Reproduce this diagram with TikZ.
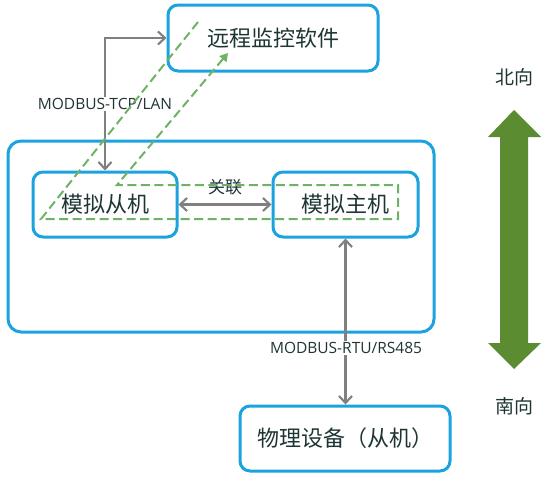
\documentclass[tikz,border=0pt]{standalone}
\usepackage{fontspec}
\setmainfont{Open Sans}
\newfontfamily\cjk{Noto Sans CJK SC}
\usetikzlibrary{arrows.meta}
\definecolor{boxblue}{HTML}{1BA3E0}
\definecolor{txt}{HTML}{1F3535}
\definecolor{gline}{HTML}{808080}
\definecolor{dgreen}{HTML}{6EB266}
\definecolor{bigarrow}{HTML}{5B8C32}
\begin{document}
\begin{tikzpicture}[x=1pt,y={(0pt,-1pt)},
  box/.style={draw=boxblue, line width=3pt, rounded corners=10pt, fill=white, text=txt, font=\cjk\fontsize{22}{26}\selectfont, inner sep=0pt},
  garrow/.style={draw=gline, line width=2.1pt, {Straight Barb[length=7pt,width=13pt]}-{Straight Barb[length=7pt,width=13pt]}},
  glabel/.style={fill=white, text=txt, font=\fontsize{15.5}{18}\selectfont, inner sep=1.5pt},
  gdash/.style={draw=dgreen, line width=2pt, dash pattern=on 9pt off 4.5pt, -{Triangle[length=8pt,width=9pt]}},
  dirlabel/.style={text=txt, font=\cjk\fontsize{19}{22}\selectfont}]
\useasboundingbox (0,0) rectangle (551,479);
\fill[white] (0,0) rectangle (551,479);

\node[box, minimum width=426pt, minimum height=191pt, rounded corners=13pt] (host) at (221,236.5) {};
\node[box, minimum width=210pt, minimum height=66pt] (remote) at (273,38) {远程监控软件};
\node[box, minimum width=144pt, minimum height=65pt] (slave) at (105,204.5) {模拟从机};
\node[box, minimum width=145pt, minimum height=65pt] (master) at (345.5,204.5) {模拟主机};
\node[box, minimum width=210pt, minimum height=65pt] (phys) at (345,438.5) {物理设备（从机）};

\draw[garrow] (slave.north) |- (remote.west);
\node[glabel] (tcp) at (105,104) {MODBUS-TCP/LAN};
\draw[garrow] (slave.east) -- (master.west);
\node[text=txt, font=\cjk\fontsize{17}{20}\selectfont, inner sep=0pt] (assoc) at (225,187) {关联};
\draw[garrow] (master.south) -- (master.south |- phys.north);
\node[glabel] (rtu) at (346,348) {MODBUS-RTU/RS485};

\coordinate (g1) at (198,22);
\coordinate (g2) at (41,219);
\coordinate (g3) at (398,219);
\coordinate (g4) at (398,185);
\coordinate (g5) at (117,185);
\coordinate (g6) at (228,53);
\draw[gdash] (g1) -- (g2) -- (g3) -- (g4) -- (g5) -- (g6);

\fill[bigarrow] (514,110) -- (541,137) -- (528,137) -- (528,343) -- (541,343) -- (514,369) -- (488,343) -- (500,343) -- (500,137) -- (488,137) -- cycle;
\node[dirlabel] (north) at (514,77) {北向};
\node[dirlabel] (south) at (514,406) {南向};
\end{tikzpicture}
\end{document}
